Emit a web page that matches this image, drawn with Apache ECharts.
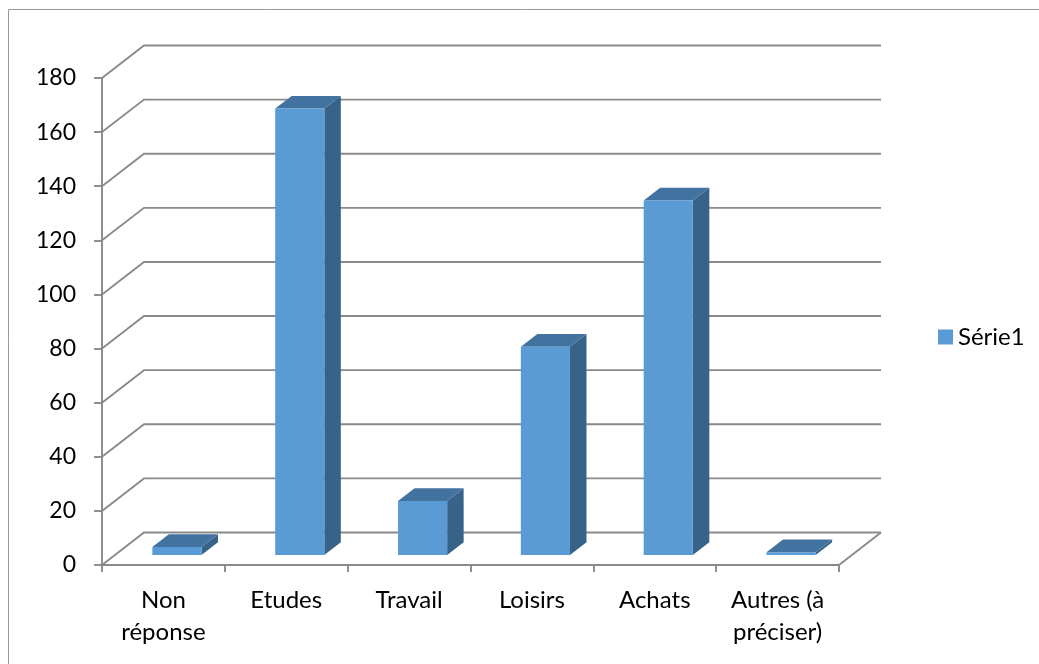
<!DOCTYPE html>
<html>
<head>
<meta charset="utf-8">
<script src="https://cdn.jsdelivr.net/npm/echarts@6/dist/echarts.min.js"></script>
<style>
  html, body { margin: 0; background: #fff; }
  #chart { width: 1039px; height: 664px; }
</style>
</head>
<body>
<div id="chart"></div>
<script>
const categories = ['Non\nréponse', 'Etudes', 'Travail', 'Loisirs', 'Achats', 'Autres (à\npréciser)']
const serie1 = [3, 165, 20, 77, 131, 1]
const yTicks = [0, 20, 40, 60, 80, 100, 120, 140, 160, 180]
const seriesName = 'Série1'

// fake 3d: back wall offset, bar offset from front plane, bar depth (px)
const DEPTH = [42, -32.5]
const BAR_SHIFT = [13.5, -10]
const BAR_DEPTH = [16.5, -12.7]
const FRONT = '#5B9BD5'
const TOP = '#4272A0'
const SIDE = '#386389'
const GRID_COLOR = '#8a8a8a'
const FONT = 'Lato'

const chart = echarts.init(document.getElementById('chart'))

function renderWall(params, api) {
  const cs = params.coordSys
  const v = api.value(1)
  const y = api.coord([0, v])[1]
  const x0 = cs.x
  const x1 = cs.x + cs.width
  const style = { stroke: GRID_COLOR, lineWidth: 1.9, fill: null }
  const children = [{
    type: 'polyline',
    shape: { points: [[x0, y], [x0 + DEPTH[0], y + DEPTH[1]], [x1 + DEPTH[0], y + DEPTH[1]]] },
    style: style
  }]
  if (v === 0) {
    // right edge of the floor
    children.push({
      type: 'line',
      shape: { x1: x1, y1: y, x2: x1 + DEPTH[0], y2: y + DEPTH[1] },
      style: style
    })
  }
  return { type: 'group', children: children }
}

function renderBar(params, api) {
  const idx = api.value(0)
  const top = api.coord([idx, api.value(1)])
  const base = api.coord([idx, 0])
  const w = api.size([1, 0])[0] * 0.4
  const x0 = top[0] - w / 2 + BAR_SHIFT[0]
  const x1 = x0 + w
  const yT = top[1] + BAR_SHIFT[1]
  const yB = base[1] + BAR_SHIFT[1]
  const dx = BAR_DEPTH[0]
  const dy = BAR_DEPTH[1]
  return {
    type: 'group',
    children: [{
      type: 'polygon',
      shape: { points: [[x1, yB], [x1 + dx, yB + dy], [x1 + dx, yT + dy], [x1, yT]] },
      style: { fill: SIDE }
    }, {
      type: 'polygon',
      shape: { points: [[x0, yT], [x0 + dx, yT + dy], [x1 + dx, yT + dy], [x1, yT]] },
      style: { fill: TOP }
    }, {
      type: 'rect',
      shape: { x: x0, y: yT, width: w, height: yB - yT },
      style: { fill: FRONT }
    }]
  }
}

chart.setOption({
  animation: false,
  textStyle: { fontFamily: FONT },
  graphic: [{
    type: 'rect',
    shape: { x: 8.5, y: 9.5, width: 1040, height: 670 },
    style: { fill: null, stroke: '#999', lineWidth: 1 },
    silent: true
  }],
  legend: {
    data: [seriesName],
    left: 938,
    top: 325,
    padding: 0,
    itemWidth: 15,
    itemHeight: 15,
    icon: 'rect',
    textStyle: { fontSize: 24, color: '#000', fontFamily: FONT }
  },
  grid: {
    left: 102,
    top: 78,
    width: 737,
    height: 487
  },
  xAxis: {
    type: 'category',
    data: categories,
    axisLine: { lineStyle: { color: GRID_COLOR, width: 1.9 } },
    axisTick: { show: true, length: 7, lineStyle: { color: GRID_COLOR, width: 1.9 } },
    axisLabel: {
      interval: 0,
      margin: 19,
      fontSize: 24,
      lineHeight: 32,
      color: '#000',
      fontFamily: FONT
    },
    splitLine: { show: false }
  },
  yAxis: {
    type: 'value',
    min: 0,
    max: 180,
    interval: 20,
    axisLine: { show: true, lineStyle: { color: GRID_COLOR, width: 1.9 } },
    axisTick: { show: true, length: 8, lineStyle: { color: GRID_COLOR, width: 1.9 } },
    axisLabel: { margin: 26, fontSize: 23, color: '#000', fontFamily: FONT },
    splitLine: { show: false }
  },
  series: [{
    type: 'custom',
    silent: true,
    clip: false,
    z: 1,
    renderItem: renderWall,
    data: yTicks.map(function (v) { return [0, v] })
  }, {
    name: seriesName,
    type: 'custom',
    clip: false,
    z: 3,
    itemStyle: { color: FRONT },
    renderItem: renderBar,
    data: serie1.map(function (v, i) { return [i, v] })
  }]
})
</script>
</body>
</html>
